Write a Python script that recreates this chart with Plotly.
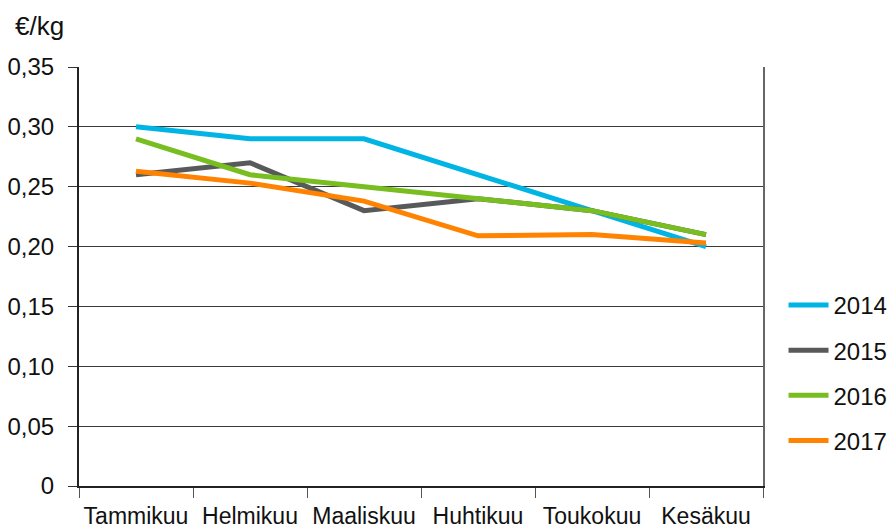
import plotly.graph_objects as go

months = ["Tammikuu", "Helmikuu", "Maaliskuu", "Huhtikuu", "Toukokuu", "Kesäkuu"]
years = ["2014", "2015", "2016", "2017"]
v2014 = [0.300, 0.290, 0.290, 0.260, 0.230, 0.200]
v2015 = [0.260, 0.270, 0.230, 0.240, 0.230, 0.210]
v2016 = [0.290, 0.260, 0.250, 0.240, 0.230, 0.210]
v2017 = [0.263, 0.253, 0.238, 0.209, 0.210, 0.203]
colors = ["#00B4E4", "#58595B", "#78BE20", "#FF8300"]
y_ticks = [0, 0.05, 0.10, 0.15, 0.20, 0.25, 0.30, 0.35]
y_ticktext = ["0", "0,05", "0,10", "0,15", "0,20", "0,25", "0,30", "0,35"]

FONT = "Liberation Sans, Arial, sans-serif"

fig = go.Figure()
for i, (name, vals) in enumerate(zip(years, [v2014, v2015, v2016, v2017])):
    fig.add_trace(go.Scatter(
        x=months, y=vals, name=name, mode="lines",
        line=dict(color=colors[i], width=5),
        legendgroup=name,
    ))

# invisible trace for right frame line
fig.add_trace(go.Scatter(x=months, y=v2014, yaxis="y2", mode="lines",
                         line=dict(width=0), showlegend=False, hoverinfo="skip",
                         opacity=0))

fig.update_layout(
    width=896, height=532,
    margin=dict(l=79, r=133, t=67, b=46, autoexpand=False),
    plot_bgcolor="white", paper_bgcolor="white",
    font=dict(family=FONT, size=24, color="#111111"),
    showlegend=True,
    legend=dict(x=1.03, xanchor="left", y=0.27, yanchor="middle",
                font=dict(size=24), tracegroupgap=11,
                itemwidth=40, bgcolor="rgba(0,0,0,0)"),
    xaxis=dict(
        type="category", range=[-0.5, 5.5], tickson="boundaries",
        showline=True, linecolor="#222222", linewidth=2,
        ticks="outside", ticklen=10, tickwidth=1, tickcolor="#555555",
        showgrid=False, ticklabelstandoff=8, tickangle=0, automargin=False,
        tickfont=dict(size=23),
    ),
    yaxis=dict(
        range=[0, 0.35], tickvals=y_ticks, ticktext=y_ticktext,
        showline=True, linecolor="#222222", linewidth=2,
        ticks="outside", ticklen=9, tickwidth=1, tickcolor="#333333",
        showgrid=True, gridcolor="#3a3a3a", gridwidth=1,
        zeroline=False, ticklabelstandoff=9, automargin=False,
        tickfont=dict(size=24),
    ),
    yaxis2=dict(
        range=[0, 0.35], overlaying="y", side="right",
        showline=True, linecolor="#666666", linewidth=2,
        showticklabels=False, ticks="", showgrid=False, zeroline=False,
        automargin=False,
    ),
    annotations=[dict(
        text="€/kg", xref="paper", yref="paper", x=0, y=1.0,
        xshift=-66, yshift=24, xanchor="left", yanchor="bottom", showarrow=False,
        font=dict(size=26, family=FONT),
    )],
)

fig.write_html(
    "out.html",
    config={"displayModeBar": False},
    post_script="document.body.style.margin='0';document.body.style.overflow='hidden';",
)
